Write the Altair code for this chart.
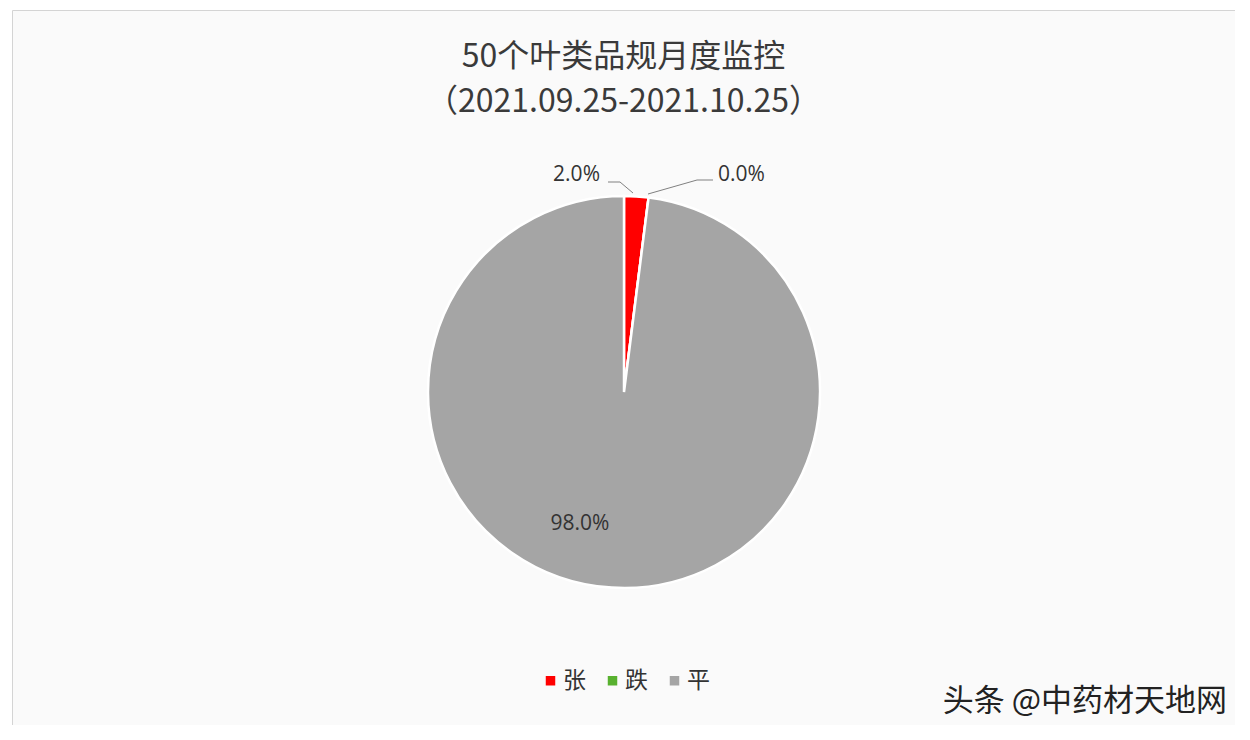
import altair as alt
import pandas as pd

# ---- data ----
categories = ["张", "跌", "平"]
shares = [2.0, 0.0, 98.0]
colors = ["#FF0000", "#58B12F", "#A5A5A5"]
title_lines = ["50个叶类品规月度监控", "（2021.09.25-2021.10.25）"]
watermark = "头条 @中药材天地网"

df = pd.DataFrame({"cat": categories, "share": shares, "idx": list(range(len(categories)))})
df["label"] = df["share"].map(lambda v: f"{v:.1f}%")

CJK = "Noto Sans CJK SC"
LAT = "Open Sans"
W, H = 1223, 715
CX, CY, R = 612, 382, 196

base = alt.Chart(df)

pie = base.mark_arc(outerRadius=R, stroke="white", strokeWidth=2.5).encode(
    theta=alt.Theta("share:Q", stack=True),
    order=alt.Order("idx:Q"),
    color=alt.Color(
        "cat:N",
        scale=alt.Scale(domain=categories, range=colors),
        legend=alt.Legend(
            title=None, orient="none", legendX=527, legendY=659,
            direction="horizontal", symbolType="square", symbolSize=90,
            symbolStrokeWidth=0, labelFontSize=23, labelFont=CJK,
            labelColor="#333333", columnPadding=15, labelOffset=1, padding=0,
        ),
    ),
    x=alt.value(CX),
    y=alt.value(CY),
)

# data label placement (style only)
label_pos = {"张": (588, 165, "right"), "跌": (706, 165, "left"), "平": (568, 514, "center")}
labels = []
for cat, (lx, ly, al) in label_pos.items():
    labels.append(
        base.transform_filter(alt.datum.cat == cat)
        .mark_text(font=LAT, fontSize=21, color="#333333", align=al, baseline="middle")
        .encode(text="label:N", x=alt.value(lx), y=alt.value(ly))
    )

# leader lines
seg = [
    (596, 172, 608, 172), (608, 172, 621, 183),
    (701, 170, 685, 170), (685, 170, 636, 184),
]
leaders = [
    alt.Chart(df.head(1)).mark_rule(color="#808080", strokeWidth=1).encode(
        x=alt.value(a), y=alt.value(b), x2=alt.value(c), y2=alt.value(d)
    )
    for a, b, c, d in seg
]

tdf = pd.DataFrame({"t": title_lines})
title1 = alt.Chart(tdf.head(1)).mark_text(
    font=CJK, fontSize=32, color="#3a3a3a", align="center", baseline="middle"
).encode(text="t:N", x=alt.value(W / 2), y=alt.value(47))
title2 = alt.Chart(tdf.tail(1)).mark_text(
    font=CJK, fontSize=32, color="#3a3a3a", align="center", baseline="middle"
).encode(text="t:N", x=alt.value(W / 2), y=alt.value(92))

wm = alt.Chart(pd.DataFrame({"t": [watermark]})).mark_text(
    font=CJK, fontSize=31, color="#222222", align="right", baseline="middle"
).encode(text="t:N", x=alt.value(1215), y=alt.value(692))

chart = alt.layer(pie, *labels, *leaders, title1, title2, wm).properties(
    width=W, height=H,
    padding={"left": 4, "top": 2, "right": 0, "bottom": 0},
    autosize=alt.AutoSizeParams(type="none"),
    background="#ffffff",
).configure_view(stroke="#d4d4d4", fill="#fafafa")

chart.save("out.html", embed_options={"renderer": "svg", "actions": False})
